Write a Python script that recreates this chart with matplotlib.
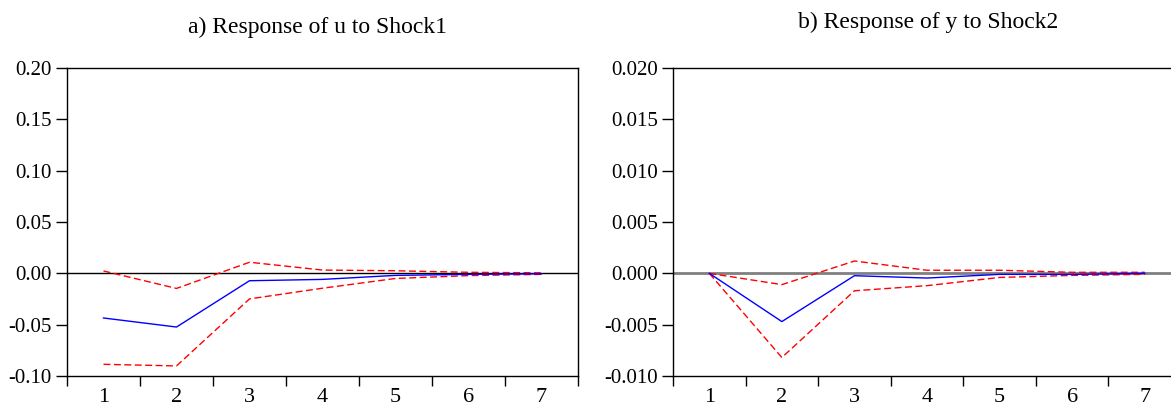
import matplotlib
matplotlib.use("Agg")
import matplotlib.pyplot as plt
from matplotlib.ticker import FixedLocator, NullFormatter

periods = [1, 2, 3, 4, 5, 6, 7]

# Panel a: Response of u to Shock1
a_resp = [-0.0435, -0.0523, -0.0072, -0.0059, -0.0020, -0.0010, -0.0005]
a_upper = [0.0023, -0.0147, 0.0108, 0.0032, 0.0025, 0.0010, 0.0005]
a_lower = [-0.0886, -0.0902, -0.0249, -0.0145, -0.0050, -0.0022, -0.0010]

# Panel b: Response of y to Shock2
b_resp = [0.0, -0.0047, -0.00023, -0.00046, -0.0001, -0.0001, 0.0]
b_upper = [0.0, -0.0011, 0.0012, 0.0003, 0.0003, 0.0001, 0.0001]
b_lower = [0.0, -0.0082, -0.0017, -0.0012, -0.0004, -0.0002, -0.0001]

a_yticks = [-0.10, -0.05, 0.00, 0.05, 0.10, 0.15, 0.20]
a_ylabels = ["-0.10", "-0.05", "0.00", "0.05", "0.10", "0.15", "0.20"]
b_yticks = [-0.010, -0.005, 0.000, 0.005, 0.010, 0.015, 0.020]
b_ylabels = ["-0.010", "-0.005", "0.000", "0.005", "0.010", "0.015", "0.020"]

titles = ["a) Response of u to Shock1", "b) Response of y to Shock2"]

plt.rcParams['font.family'] = ['Liberation Serif', 'DejaVu Serif']

W, H = 1171, 403
fig = plt.figure(figsize=(W / 100, H / 100), dpi=100)

def px_axes(left, top, right, bottom):
    return fig.add_axes([left / W, 1 - bottom / H, (right - left) / W, (bottom - top) / H])

ax_a = px_axes(67, 68, 578, 376)
ax_b = px_axes(673, 68, 1181, 376)

panels = [
    (ax_a, a_resp, a_upper, a_lower, a_yticks, a_ylabels, (-0.100, 0.20), 'black', 1.0, titles[0], 318, 27),
    (ax_b, b_resp, b_upper, b_lower, b_yticks, b_ylabels, (-0.0100, 0.020), '#808080', 2.0, titles[1], 928, 22),
]

for ax, resp, up, lo, yt, yl, ylim, zc, zw, title, tx, ty in panels:
    ax.axhline(0, color=zc, lw=zw, zorder=1)
    ax.plot(periods, up, color='red', lw=1.0, ls=(0, (5, 2.5)), zorder=2)
    ax.plot(periods, lo, color='red', lw=1.0, ls=(0, (5, 2.5)), zorder=2)
    ax.plot(periods, resp, color='blue', lw=1.0, zorder=3)
    ax.set_xlim(0.5, 7.5)
    ax.set_ylim(*ylim)
    ax.xaxis.set_major_locator(FixedLocator([0.5 + i for i in range(8)]))
    ax.xaxis.set_major_formatter(NullFormatter())
    ax.xaxis.set_minor_locator(FixedLocator(periods))
    ax.set_xticklabels([str(p) for p in periods], minor=True)
    ax.tick_params(axis='x', which='major', direction='out', length=7, width=1, color='black')
    ax.tick_params(axis='x', which='minor', length=0, pad=9, labelsize=16)
    ax.set_yticks(yt)
    ax.set_yticklabels(yl)
    ax.tick_params(axis='y', direction='out', length=8, width=1, pad=3, labelsize=15)
    for lab in ax.get_yticklabels():
        lab.set_y(lab.get_position()[1])
    for s in ax.spines.values():
        s.set_linewidth(1.0)
        s.set_color('black')
    fig.text(tx / W, 1 - ty / H, title, ha='center', va='center', fontsize=17)

fig.savefig("out.png", dpi=100)
